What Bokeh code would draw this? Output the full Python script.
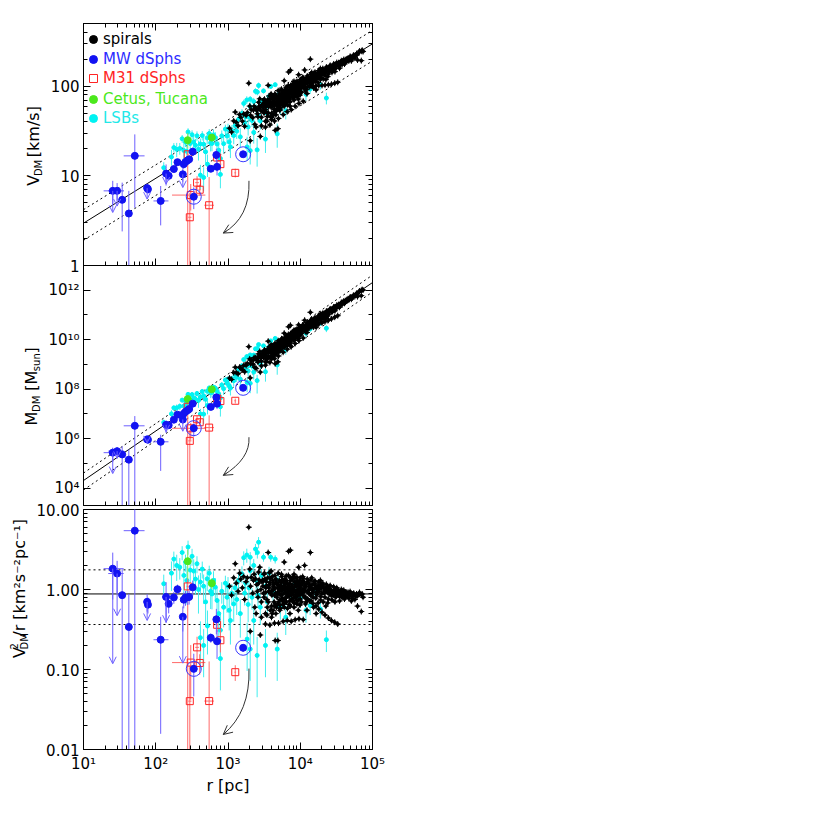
import math
from bokeh.plotting import figure
from bokeh.layouts import column, row
from bokeh.models import (Range1d, LogAxis, FixedTicker, Legend, LegendItem,
                          Arrow, OpenHead, ColumnDataSource)
from bokeh.core.properties import value
from bokeh.embed import file_html
from bokeh.resources import INLINE

G = 4.302e-3  # pc (km/s)^2 / Msun

# ---------------- data ----------------
# Milky Way dSphs: radius (pc), V_DM (km/s), sigma_V, radius range
mw_r = [25.4, 29.2, 34.3, 42.4, 51.3, 76, 78, 117, 139, 151, 178, 200, 237, 244, 258, 277, 290, 325, 336, 578, 690, 705, 1620]
mw_v = [6.8, 6.8, 5.4, 3.8, 16.7, 7.3, 7.1, 5.25, 10.6, 10.0, 11.9, 14.2, 10.4, 13.5, 14.3, 14.9, 15.3, 18.6, 5.85, 12.0, 17.1, 12.6, 17.4]
mw_verr = [2.0, 1.5, 3.0, 3.0, 12.3, 0.9, 0.8, 2.45, 2.8, 1.2, 1.0, 1.0, 1.8, 1.5, 1.5, 1.5, 1.5, 2.0, 1.6, 0.8, 3.0, 2.5, 1.0]
mw_rlo = [19, 22, 31, 39, 36, 68, 70, 93, 122, 140, 170, 192, 225, 232, 246, 265, 278, 310, 300, 555, 660, 675, 1560]
mw_rhi = [36, 36, 38, 46, 70, 84, 86, 150, 158, 162, 186, 208, 249, 256, 270, 289, 302, 340, 375, 600, 720, 735, 1680]
mw_ringed = [18, 22]
# upper limits (index into MW arrays) and arrow tips per panel
mw_limit_idx = [0, 1, 5, 8, 12]
lim_tip_v = [3.9, 4.6, 5.5, 8.1, 7.4]
lim_tip_m = [3.9e4, 1.6e5, 6.8e5, 1.9e6, 2.0e6]
lim_tip_a = [0.118, 0.47, 0.41, 0.39, 0.12]

# M31 dSphs
m31_r = [277, 305, 296, 373, 406, 548, 785, 707, 1260]
m31_v = [17.4, 6.1, 3.45, 8.4, 7.0, 4.7, 13.5, 16.0, 10.8]
m31_elo = [17.0, 2.0, 3.4, 1.5, 1.0, 4.6, 2.0, 1.5, 1.2]
m31_ehi = [2.0, 2.0, 3.0, 1.5, 1.0, 5.0, 2.5, 1.5, 1.2]
m31_rlo = [268, 168, 282, 352, 390, 470, 760, 690, 1225]
m31_rhi = [286, 486, 312, 396, 422, 640, 810, 725, 1295]

# Cetus, Tucana
ct_r = [277, 596]
ct_v = [25.0, 26.7]
ct_verr = [5.0, 2.0]

# LSBs: radius (pc), V^2/r (km^2 s^-2 pc^-1), fractional V error
lsb_r = [129, 165, 178, 195, 215, 232, 245, 258, 270, 280,
         300, 318, 335, 355, 372, 390, 415, 415, 440, 460,
         460, 490, 515, 520, 550, 575, 600, 630, 667, 705,
         745, 785, 785, 820, 870, 920, 970, 1000, 1040, 1080,
         1130, 1200, 1250, 1320, 1400, 1480, 1560, 1650, 1700, 1750,
         1820, 1840, 1900, 1950, 2030, 2030, 2030, 2150, 2270, 2270,
         2400, 2450, 2530, 2550, 2600, 2650, 2800, 2900, 3100, 3300,
         3300, 3500, 3700, 3900, 4200, 4500, 4800, 4900, 5300, 5800,
         6300, 7300, 8500, 10000, 12000, 13700, 16000, 19000, 23000]
lsb_a = [1.18, 1.6, 2.4, 2.0, 1.9, 2.9, 1.5, 2.2, 1.3, 3.4,
         1.75, 2.6, 1.7, 1.35, 2.1, 1.0, 1.24, 0.25, 1.8, 1.1,
         0.20, 0.7, 1.36, 0.35, 1.6, 0.95, 0.88, 1.3, 1.07, 0.73,
         0.5, 0.31, 0.137, 0.95, 0.6, 1.2, 0.8, 1.1, 0.55, 0.41,
         0.9, 0.66, 1.05, 0.75, 1.3, 0.5, 1.57, 2.5, 0.9, 1.2,
         2.7, 0.24, 0.65, 1.05, 1.72, 2.53, 0.18, 0.8, 0.41, 2.0,
         3.2, 1.3, 0.15, 2.9, 0.85, 3.9, 0.6, 1.5, 2.53, 0.2,
         1.1, 0.7, 1.6, 2.53, 0.95, 2.4, 0.18, 1.3, 0.6, 1.05,
         0.45, 0.93, 1.2, 0.77, 0.55, 0.63, 0.95, 0.57, 0.236]
lsb_f = [0.15, 0.2, 0.12, 0.18, 0.15, 0.1, 0.2, 0.12, 0.25, 0.1,
         0.15, 0.12, 0.2, 0.18, 0.12, 0.25, 0.15, 0.3, 0.12, 0.2,
         0.3, 0.25, 0.15, 0.28, 0.12, 0.2, 0.18, 0.15, 0.15, 0.22,
         0.25, 0.28, 0.3, 0.15, 0.22, 0.12, 0.18, 0.15, 0.22, 0.25,
         0.15, 0.2, 0.12, 0.18, 0.12, 0.25, 0.12, 0.1, 0.15, 0.12,
         0.1, 0.3, 0.2, 0.12, 0.12, 0.08, 0.3, 0.15, 0.25, 0.1,
         0.08, 0.12, 0.35, 0.08, 0.15, 0.08, 0.2, 0.1, 0.06, 0.3,
         0.12, 0.18, 0.1, 0.06, 0.12, 0.06, 0.3, 0.1, 0.15, 0.1,
         0.2, 0.1, 0.1, 0.12, 0.15, 0.12, 0.08, 0.12, 0.15]

# spirals: radius (pc), V^2/r
sp_r = [1050, 1120, 1200, 1260, 1300, 1380, 1450, 1500, 1580, 1650,
        1700, 1780, 1850, 1940, 2000, 2050, 2100, 2200, 2250, 2350,
        2400, 2500, 2600, 2700, 2750, 2800, 2850, 2950, 2030, 3000,
        3400, 3800, 4300, 4800, 5400, 6000, 6800, 7600, 3300, 3800,
        4400, 5000, 5800, 6600, 7500, 8500, 9600, 11000, 4000, 4600,
        5200, 6000, 7000, 8000, 9000, 10000, 12000, 13500, 15000, 16500,
        18000, 20000, 22000, 24500, 27000, 30000, 33000, 30000, 34000, 38000,
        42000, 46000, 50000, 55000, 60000, 65000, 70000, 74000, 70000, 62000,
        4000, 4500, 5000, 5600, 6200, 7000, 8000, 9000, 10000, 11500,
        13000, 15000, 17000, 19500, 22000, 25000, 8000, 9000, 10000, 11000,
        12500, 14000, 16000, 18000, 20500, 23000, 26000, 29000, 3600, 6900,
        7300, 13800, 4500, 4900, 6000, 9500, 11500, 3300, 3100, 3200,
        3350, 3450, 3550, 3650, 3750, 3850, 3950, 4050, 4150, 4250,
        4350, 4450, 4550, 4650, 4750, 4850, 4950, 5050, 5150, 5250,
        5350, 5450, 5550, 5650, 5750, 5850, 5950, 6100, 6250, 6400,
        6550, 6700, 6850, 7000, 7150, 7350, 7500, 7700, 7900, 8100,
        8300, 8500, 8700, 8900, 9100, 9300, 9500, 9800, 10200, 10500,
        10800, 11200, 11600, 12000, 12500, 13000, 13500, 14000, 14500, 15000,
        15500, 16000, 16800, 17500, 18200, 19000, 20000, 21000, 22000, 23000,
        24000, 25500, 27000, 28500, 30000, 32000, 34000, 36000, 38000, 40000,
        43000, 47000, 52000, 57000,
        2550, 2650, 2900, 3050, 3150, 3250, 3500, 3700, 3900, 4100,
        4200, 4400, 4600, 4800, 5000, 5100, 5300, 5500, 5700, 5900,
        6050, 6300, 6500, 6650, 6800, 7100, 7250, 7450, 7650, 7850,
        8000, 8200, 8400, 8600, 8800, 9000, 9200, 9400, 9700, 9900,
        10100, 10400, 10700, 11000, 11400, 11800, 12200, 12700, 13200, 13700,
        14200, 14800, 15300, 15800, 16400, 17000, 17700, 18400, 19200, 20000,
        20800, 21700, 22600, 23500, 24500, 25500, 26500, 27500, 29000, 31000,
        33000, 35000, 37000, 39000, 41000, 44000, 48000, 51000, 54000, 58000,
        2300, 2450, 2650, 2900, 3150, 3450, 3750, 4100, 4400, 4700,
        5500, 6400, 7200, 8200, 9400, 10800, 12400, 14400, 16600, 19000,
        3080, 3280, 3420, 3620, 3820, 4020, 4220, 4420, 4620, 4820,
        5020, 5220, 5420, 5620, 5820, 6020, 6220, 6420, 6620, 6820,
        7020, 7320, 7620, 7920, 8220, 8520, 8820, 9120, 9420, 9720,
        10300, 10900, 11500, 12100, 12800, 13500, 14300, 15100, 16000, 17000,
        18000, 19100, 20200, 21400, 22700, 24000, 25400, 26900, 28500, 30200,
        32000, 35500, 38500, 42000, 45000, 49000, 53000, 61000, 66000, 72000]
sp_a = [1.10, 0.85, 1.40, 2.10, 1.20, 0.95, 1.60, 1.35, 1.05, 1.45,
        0.75, 1.25, 1.40, 6.00, 1.80, 1.10, 1.42, 0.90, 1.30, 0.60,
        1.36, 1.15, 0.80, 1.32, 1.90, 0.27, 1.00, 1.25, 0.30, 1.30,
        1.25, 1.22, 1.18, 1.15, 1.12, 1.10, 1.06, 1.03, 0.37, 0.36,
        0.38, 0.38, 0.40, 0.41, 0.40, 0.42, 0.43, 0.42, 0.45, 0.50,
        0.55, 0.60, 0.65, 0.70, 0.73, 0.76, 0.78, 0.72, 0.67, 0.62,
        0.57, 0.52, 0.48, 0.44, 0.41, 0.39, 0.37, 1.00, 0.98, 0.96,
        0.93, 0.92, 0.90, 0.90, 0.88, 0.87, 0.86, 0.80, 0.53, 0.62,
        0.62, 0.66, 0.70, 0.74, 0.78, 0.82, 0.86, 0.90, 0.93, 0.96,
        0.98, 1.00, 1.02, 1.03, 1.03, 1.02, 1.45, 1.42, 1.40, 1.38,
        1.35, 1.32, 1.28, 1.24, 1.20, 1.16, 1.12, 1.08, 2.90, 3.00,
        3.10, 2.90, 0.23, 0.23, 2.20, 1.90, 2.00, 0.50, 0.90, 1.60,
        1.05, 0.75, 1.40, 0.95, 1.15, 0.55, 1.70, 0.85, 1.30, 1.00,
        0.70, 1.50, 0.90, 1.20, 0.80, 1.05, 1.60, 0.95, 1.30, 0.75,
        1.10, 0.85, 1.45, 1.00, 0.65, 1.25, 0.90, 1.35, 1.05, 0.80,
        1.20, 0.95, 1.50, 1.10, 0.72, 1.30, 0.90, 1.15, 1.00, 0.78,
        1.25, 0.95, 1.40, 1.10, 0.85, 1.20, 1.00, 1.30, 0.88, 1.15,
        0.98, 1.25, 0.80, 1.10, 0.95, 1.20, 1.05, 0.85, 1.15, 0.92,
        1.25, 1.05, 0.88, 1.10, 0.95, 1.15, 0.90, 1.05, 0.80, 1.00,
        0.92, 1.08, 0.95, 0.85, 0.92, 1.05, 0.85, 0.92, 0.80, 0.98,
        0.85, 0.78, 0.82, 0.75,
        0.95, 1.20, 0.70, 1.10, 0.80, 1.35, 0.60, 1.05, 0.90, 1.45,
        0.55, 0.85, 1.35, 0.65, 1.15, 0.88, 0.58, 1.22, 0.78, 1.05,
        0.68, 0.92, 1.28, 0.58, 0.84, 1.18, 0.62, 1.02, 0.76, 1.36,
        0.94, 0.60, 1.08, 0.80, 1.22, 0.66, 0.98, 0.74, 1.12, 0.64,
        1.05, 0.70, 1.30, 0.84, 1.02, 0.66, 1.18, 0.76, 0.90, 1.10,
        0.72, 0.98, 0.60, 1.14, 0.78, 0.94, 0.68, 1.06, 0.82, 1.12,
        0.70, 0.96, 0.62, 1.08, 0.76, 0.88, 1.00, 0.74, 0.98, 0.80,
        0.94, 0.72, 1.00, 0.86, 0.76, 0.92, 0.86, 0.72, 0.88, 0.84,
        1.55, 0.50, 1.65, 0.45, 1.55, 0.48, 1.62, 0.50, 1.05, 0.60,
        1.55, 1.48, 0.50, 1.55, 0.55, 1.45, 0.55, 1.40, 0.50, 1.30,
        1.28, 0.92, 1.12, 0.70, 1.38, 0.96, 1.10, 0.62, 1.24, 0.90,
        1.02, 0.64, 0.96, 1.32, 0.72, 1.00, 1.16, 0.70, 1.06, 0.86,
        0.96, 1.40, 0.86, 1.06, 0.68, 1.16, 0.82, 1.28, 0.96, 0.86,
        1.20, 0.92, 1.10, 0.70, 1.24, 0.88, 1.02, 0.80, 1.18, 0.86,
        1.00, 0.74, 1.14, 0.90, 0.98, 0.68, 0.96, 0.84, 0.90, 0.70,
        0.88, 0.82, 0.88, 0.80, 0.84, 0.94, 0.78, 0.82, 0.92, 0.88]

# relation V^2/r = const (solid) and its scatter (dotted)
rel_mid = 0.88
rel_hi = 1.76
rel_lo = 0.365

# curved arrow (start, control, end) per panel
arrow_r = [1950, 2040, 860]
arrow_v = [8.8, 3.44, 2.3]
arrow_m = [1.15e6, 1.55e5, 3.3e4]
arrow_a = [0.1026, 0.0296, 0.0154]

# tick labels
x_ticks = [10.0, 100.0, 1000.0, 10000.0, 100000.0]
x_labels = ["10\u00b9", "10\u00b2", "10\u00b3", "10\u2074", "10\u2075"]
v_ticks = [1.0, 10.0, 100.0]
v_labels = ["1", "10", "100"]
m_ticks = [1e4, 1e6, 1e8, 1e10, 1e12]
m_labels = ["10\u2074", "10\u2076", "10\u2078", "10\u00b9\u2070", "10\u00b9\u00b2"]
a_ticks = [0.01, 0.1, 1.0, 10.0]
a_labels = ["0.01", "0.10", "1.00", "10.00"]

assert len(sp_r) == len(sp_a)
assert len(lsb_r) == len(lsb_a) == len(lsb_f)

# ---------------- helpers ----------------
FONT = "DejaVu Sans"
BLUE = "#1212f2"
BLUE_E = "#6d60ff"
RED = "#ff2424"
RED_E = "#ff6a6a"
GREEN = "#4be81c"
GREEN_E = "#86e85a"
CYAN = "#00f2f2"
CYAN_E = "#40eeee"


def qty(kind, r, v):
    if kind == "v":
        return v
    if kind == "m":
        return v * v * r / G
    return v * v / r


def qerr(kind, r, v, s):
    if kind == "v":
        return s
    if kind == "m":
        return 2 * v * s * r / G
    return 2 * v * s / r


def minors(lo_exp, hi_exp):
    out = []
    for e in range(lo_exp, hi_exp):
        out += [k * 10.0 ** e for k in range(2, 10)]
    return out


def style_axis(ax, ticks, minor, labels=None):
    ax.ticker = FixedTicker(ticks=ticks, minor_ticks=minor)
    ax.major_tick_in = 7
    ax.major_tick_out = 0
    ax.minor_tick_in = 4
    ax.minor_tick_out = 0
    ax.axis_line_color = "black"
    ax.major_tick_line_color = "black"
    ax.minor_tick_line_color = "black"
    if labels is None:
        ax.major_label_overrides = {t: " " for t in ticks}
        ax.major_label_text_font_size = "1px"
        ax.major_label_standoff = 0
    else:
        ax.major_label_overrides = {t: l for t, l in zip(ticks, labels)}
        ax.major_label_text_font = FONT
        ax.major_label_text_font_size = "15px"
        ax.major_label_text_color = "black"
        ax.major_label_standoff = 4


CW = {" ": 0.318, "[": 0.390, "]": 0.390, "/": 0.337, "V": 0.684, "M": 0.863, "D": 0.770,
      "k": 0.579, "m": 0.974, "s": 0.521, "u": 0.634, "n": 0.634, "r": 0.411, "p": 0.635,
      "c": 0.550, "\u00b2": 0.401, "\u00b9": 0.401, "\u207b": 0.50, "2": 0.636}


def tw(s, size):
    return sum(CW.get(c, 0.6) for c in s) * size


def label_fig(width, height, pieces, xc, yc):
    f = figure(width=width, height=height, x_range=Range1d(0, width), y_range=Range1d(0, height),
               min_border=0, output_backend="svg", toolbar_location=None)
    f.axis.visible = False
    f.grid.visible = False
    f.outline_line_color = None
    f.border_fill_color = None
    f.background_fill_color = None
    total = sum(tw(t, s) for t, s, dx, adv in pieces if adv)
    y = yc - total / 2
    for t, s, dx, adv in pieces:
        lead = len(t) - len(t.lstrip(" "))
        y0 = y + tw(" " * lead, s)
        f.text(x=[xc + dx], y=[y0], text=[t.lstrip(" ")], angle=math.pi / 2,
               text_font=value(FONT), text_font_size=value(f"{s}px"), text_align="left",
               text_baseline="middle", text_color="black")
        if adv:
            y += tw(t, s)
    return f


def make_panel(kind, yr, fh, left, top, bottom, yticks, yminor, ylabels, show_x, has_top):
    p = figure(x_axis_type="log", y_axis_type="log",
               x_range=Range1d(10, 1e5), y_range=Range1d(*yr),
               frame_width=289, frame_height=fh,
               min_border_left=left, min_border_right=30,
               min_border_top=top, min_border_bottom=bottom,
               output_backend="svg", toolbar_location=None)
    p.grid.visible = False
    p.outline_line_color = "black"
    p.border_fill_color = None
    p.background_fill_color = None
    xminor = minors(1, 5)
    style_axis(p.xaxis[0], x_ticks, xminor, x_labels if show_x else None)
    style_axis(p.yaxis[0], yticks, yminor, ylabels)
    ra = LogAxis()
    style_axis(ra, yticks, yminor, None)
    p.add_layout(ra, "right")
    if has_top:
        ta = LogAxis()
        style_axis(ta, x_ticks, xminor, None)
        p.add_layout(ta, "above")
    if show_x:
        ax = p.xaxis[0]
        ax.axis_label = "r [pc]"
        ax.axis_label_text_font = FONT
        ax.axis_label_text_font_size = "16px"
        ax.axis_label_text_font_style = "normal"
        ax.axis_label_text_color = "black"
        ax.axis_label_standoff = 0
        ax.major_label_standoff = 5

    floor = yr[0] * 1e-3
    rends = {}

    # relation lines
    xs = [10.0, 1e5]
    for a, dash in [(rel_mid, "solid"), (rel_hi, "2 3"), (rel_lo, "2 3")]:
        ys = [qty(kind, x, math.sqrt(a * x)) for x in xs]
        p.line(xs, ys, line_color="black", line_width=1, line_dash=dash)

    # LSBs
    lv = [math.sqrt(a * r) for r, a in zip(lsb_r, lsb_a)]
    ly = [qty(kind, r, v) for r, v in zip(lsb_r, lv)]
    le = [qerr(kind, r, v, f * v) for r, v, f in zip(lsb_r, lv, lsb_f)]
    p.segment(lsb_r, [max(y - e, floor) for y, e in zip(ly, le)], lsb_r,
              [y + e for y, e in zip(ly, le)], line_color=CYAN_E, line_width=1)
    rends["lsb"] = p.scatter(lsb_r, ly, marker="circle", size=4, color=CYAN)

    # spirals
    sv = [math.sqrt(a * r) for r, a in zip(sp_r, sp_a)]
    sy = [qty(kind, r, v) for r, v in zip(sp_r, sv)]
    p.scatter(sp_r, sy, marker="cross", size=6, line_color="black", line_width=1)
    rends["spirals"] = p.scatter(sp_r, sy, marker="circle", size=3, color="black")

    # Cetus, Tucana
    cy = [qty(kind, r, v) for r, v in zip(ct_r, ct_v)]
    ce = [qerr(kind, r, v, s) for r, v, s in zip(ct_r, ct_v, ct_verr)]
    p.segment(ct_r, [max(y - e, floor) for y, e in zip(cy, ce)], ct_r,
              [y + e for y, e in zip(cy, ce)], line_color=GREEN_E, line_width=1)
    rends["ct"] = p.scatter(ct_r, cy, marker="circle", size=7, color=GREEN)

    # M31 dSphs
    my = [qty(kind, r, v) for r, v in zip(m31_r, m31_v)]
    mlo = [max(y - qerr(kind, r, v, s), floor) for y, r, v, s in zip(my, m31_r, m31_v, m31_elo)]
    mhi = [y + qerr(kind, r, v, s) for y, r, v, s in zip(my, m31_r, m31_v, m31_ehi)]
    p.segment(m31_r, mlo, m31_r, mhi, line_color=RED_E, line_width=1)
    p.segment(m31_rlo, my, m31_rhi, my, line_color=RED_E, line_width=1)
    rends["m31"] = p.scatter(m31_r, my, marker="square", size=7, fill_color=None,
                             line_color=RED, line_width=1)

    # MW dSphs
    wy = [qty(kind, r, v) for r, v in zip(mw_r, mw_v)]
    we = [qerr(kind, r, v, s) for r, v, s in zip(mw_r, mw_v, mw_verr)]
    p.segment(mw_r, [max(y - e, floor) for y, e in zip(wy, we)], mw_r,
              [y + e for y, e in zip(wy, we)], line_color=BLUE_E, line_width=1)
    p.segment(mw_rlo, wy, mw_rhi, wy, line_color=BLUE_E, line_width=1)
    tips = {"v": lim_tip_v, "m": lim_tip_m, "a": lim_tip_a}[kind]
    lsrc = ColumnDataSource(dict(x=[mw_r[i] for i in mw_limit_idx],
                                 y0=[wy[i] for i in mw_limit_idx], y1=tips))
    p.add_layout(Arrow(end=OpenHead(size=7, line_color=BLUE_E, line_width=1),
                       x_start="x", y_start="y0", x_end="x", y_end="y1", source=lsrc,
                       line_color=BLUE_E, line_width=1))
    rends["mw"] = p.scatter(mw_r, wy, marker="circle", size=7, color=BLUE)
    p.scatter([mw_r[i] for i in mw_ringed], [wy[i] for i in mw_ringed], marker="circle",
              size=15, fill_color=None, line_color="#3a3aff", line_width=1)

    # curved arrow
    ay = {"v": arrow_v, "m": arrow_m, "a": arrow_a}[kind]
    p.quadratic(x0=[arrow_r[0]], y0=[ay[0]], x1=[arrow_r[2]], y1=[ay[2]],
                cx=[arrow_r[1]], cy=[ay[1]], line_color="#333333", line_width=1)
    t = 0.12
    hx = 10 ** (math.log10(arrow_r[2]) + t * (math.log10(arrow_r[1]) - math.log10(arrow_r[2])))
    hy = 10 ** (math.log10(ay[2]) + t * (math.log10(ay[1]) - math.log10(ay[2])))
    p.add_layout(Arrow(end=OpenHead(size=9, line_color="#333333", line_width=1),
                       x_start=hx, y_start=hy, x_end=arrow_r[2], y_end=ay[2],
                       line_color="#333333", line_width=1))
    return p, rends


# panel 1: label strip 44 px + left border 39 px
p1, r1 = make_panel("v", (1.0, 500.0), 242, 39, 23, 9, v_ticks, minors(0, 3), v_labels,
                    False, True)
l1 = label_fig(44, 274, [("V", 16, 0, True), ("DM", 10, 5, True), (" [km/s]", 16, 0, True)],
               33, 132)
# panel 2
p2, _ = make_panel("m", (2e3, 1e13), 240, 39, 0, 0, m_ticks,
                   [1e3 * 10 ** k for k in (2, 4, 6, 8, 10)], m_labels, False, False)
l2 = label_fig(44, 240, [("M", 16, 0, True), ("DM", 10, 5, True), (" [M", 16, 0, True),
                         ("sun", 10, 5, True), ("]", 16, 0, True)], 31, 117)
# panel 3: label strip 30 px + left border 53 px
p3, _ = make_panel("a", (0.01, 10.0), 240, 53, 9, 60, a_ticks, minors(-2, 1), a_labels,
                   True, False)
l3 = label_fig(30, 309, [("V", 16, 0, True), ("2", 10, -6, False), ("DM", 10, 5, True),
                         ("/r [km\u00b2s\u207b\u00b2pc\u207b\u00b9]", 16, 0, True)], 19, 190)

# legend (one legend per entry so each label gets its own colour)
leg_entries = [("spirals", "spirals", "black"),
               ("MW dSphs", "mw", "#2b2bff"),
               ("M31 dSphs", "m31", RED),
               ("Cetus, Tucana", "ct", GREEN),
               ("LSBs", "lsb", "#22e8e8")]
leg_y = [216, 196, 177, 156, 137]
for (lab, key, tc), yy in zip(leg_entries, leg_y):
    leg = Legend(items=[LegendItem(label=lab, renderers=[r1[key]])], location=(0, yy),
                 glyph_width=20, glyph_height=20, label_standoff=0, padding=0, margin=0,
                 spacing=0, border_line_color=None, background_fill_alpha=0,
                 label_text_font=FONT, label_text_font_size="15px", label_text_color=tc,
                 label_height=20)
    p1.add_layout(leg)

layout = column(row(l1, p1, spacing=0),
                row(l2, p2, spacing=0, margin=(-9, 0, 0, 0)),
                row(l3, p3, spacing=0, margin=(-9, 0, 0, 0)),
                spacing=0)
open("out.html", "w").write(file_html(layout, INLINE))
